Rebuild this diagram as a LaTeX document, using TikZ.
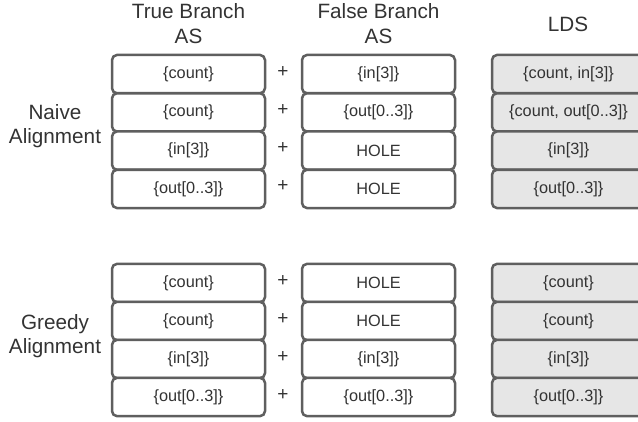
\documentclass[tikz,border=0pt]{standalone}
\usepackage{fontspec}
\setmainfont{Liberation Sans}
\definecolor{boxgray}{RGB}{95,95,95}
\definecolor{txtgray}{RGB}{51,51,51}
\definecolor{ldsfill}{RGB}{230,230,230}
\begin{document}
\begin{tikzpicture}[x=1pt,y=-1pt,
  cell/.style={draw=boxgray, line width=2.5pt, rounded corners=5pt,
    minimum width=153pt, minimum height=38.25pt, inner sep=0pt,
    font=\fontsize{16.3}{18}\selectfont, text=txtgray, fill=white},
  ldscell/.style={cell, fill=ldsfill},
  plussign/.style={font=\fontsize{19}{20}\selectfont, text=txtgray},
  head/.style={align=center, font=\fontsize{20.7}{24.3}\selectfont, text=txtgray}]
\useasboundingbox (0,0) rectangle (638,421);
\begin{scope}
\clip (0,0) rectangle (638,421);
% headers
\node[head] (hT) at (188.5,23.5) {True Branch\\AS};
\node[head] (hF) at (378.5,23.5) {False Branch\\AS};
\node[head] (hL) at (568,24) {LDS};
\node[head] (hN) at (55,126) {Naive\\Alignment};
\node[head] (hG) at (55,336) {Greedy\\Alignment};
% naive rows
\node[cell] (t1) at (188.5,74.1) {\{count\}};
\node[cell] (t2) at (188.5,112.4) {\{count\}};
\node[cell] (t3) at (188.5,150.6) {\{in[3]\}};
\node[cell] (t4) at (188.5,188.9) {\{out[0..3]\}};
\node[cell] (f1) at (378.5,74.1) {\{in[3]\}};
\node[cell] (f2) at (378.5,112.4) {\{out[0..3]\}};
\node[cell] (f3) at (378.5,150.6) {HOLE};
\node[cell] (f4) at (378.5,188.9) {HOLE};
\node[ldscell] (l1) at (568.5,74.1) {\{count, in[3]\}};
\node[ldscell] (l2) at (568.5,112.4) {\{count, out[0..3]\}};
\node[ldscell] (l3) at (568.5,150.6) {\{in[3]\}};
\node[ldscell] (l4) at (568.5,188.9) {\{out[0..3]\}};
\node[plussign] (p1) at (283,72) {+};
\node[plussign] (p2) at (283,110) {+};
\node[plussign] (p3) at (283,148.5) {+};
\node[plussign] (p4) at (283,186.5) {+};
% greedy rows
\node[cell] (t5) at (188.5,283) {\{count\}};
\node[cell] (t6) at (188.5,321) {\{count\}};
\node[cell] (t7) at (188.5,359) {\{in[3]\}};
\node[cell] (t8) at (188.5,397) {\{out[0..3]\}};
\node[cell] (f5) at (378.5,283) {HOLE};
\node[cell] (f6) at (378.5,321) {HOLE};
\node[cell] (f7) at (378.5,359) {\{in[3]\}};
\node[cell] (f8) at (378.5,397) {\{out[0..3]\}};
\node[ldscell] (l5) at (568.5,283) {\{count\}};
\node[ldscell] (l6) at (568.5,321) {\{count\}};
\node[ldscell] (l7) at (568.5,359) {\{in[3]\}};
\node[ldscell] (l8) at (568.5,397) {\{out[0..3]\}};
\node[plussign] (p5) at (283,281) {+};
\node[plussign] (p6) at (283,319) {+};
\node[plussign] (p7) at (283,357) {+};
\node[plussign] (p8) at (283,395) {+};
\end{scope}
\end{tikzpicture}
\end{document}
